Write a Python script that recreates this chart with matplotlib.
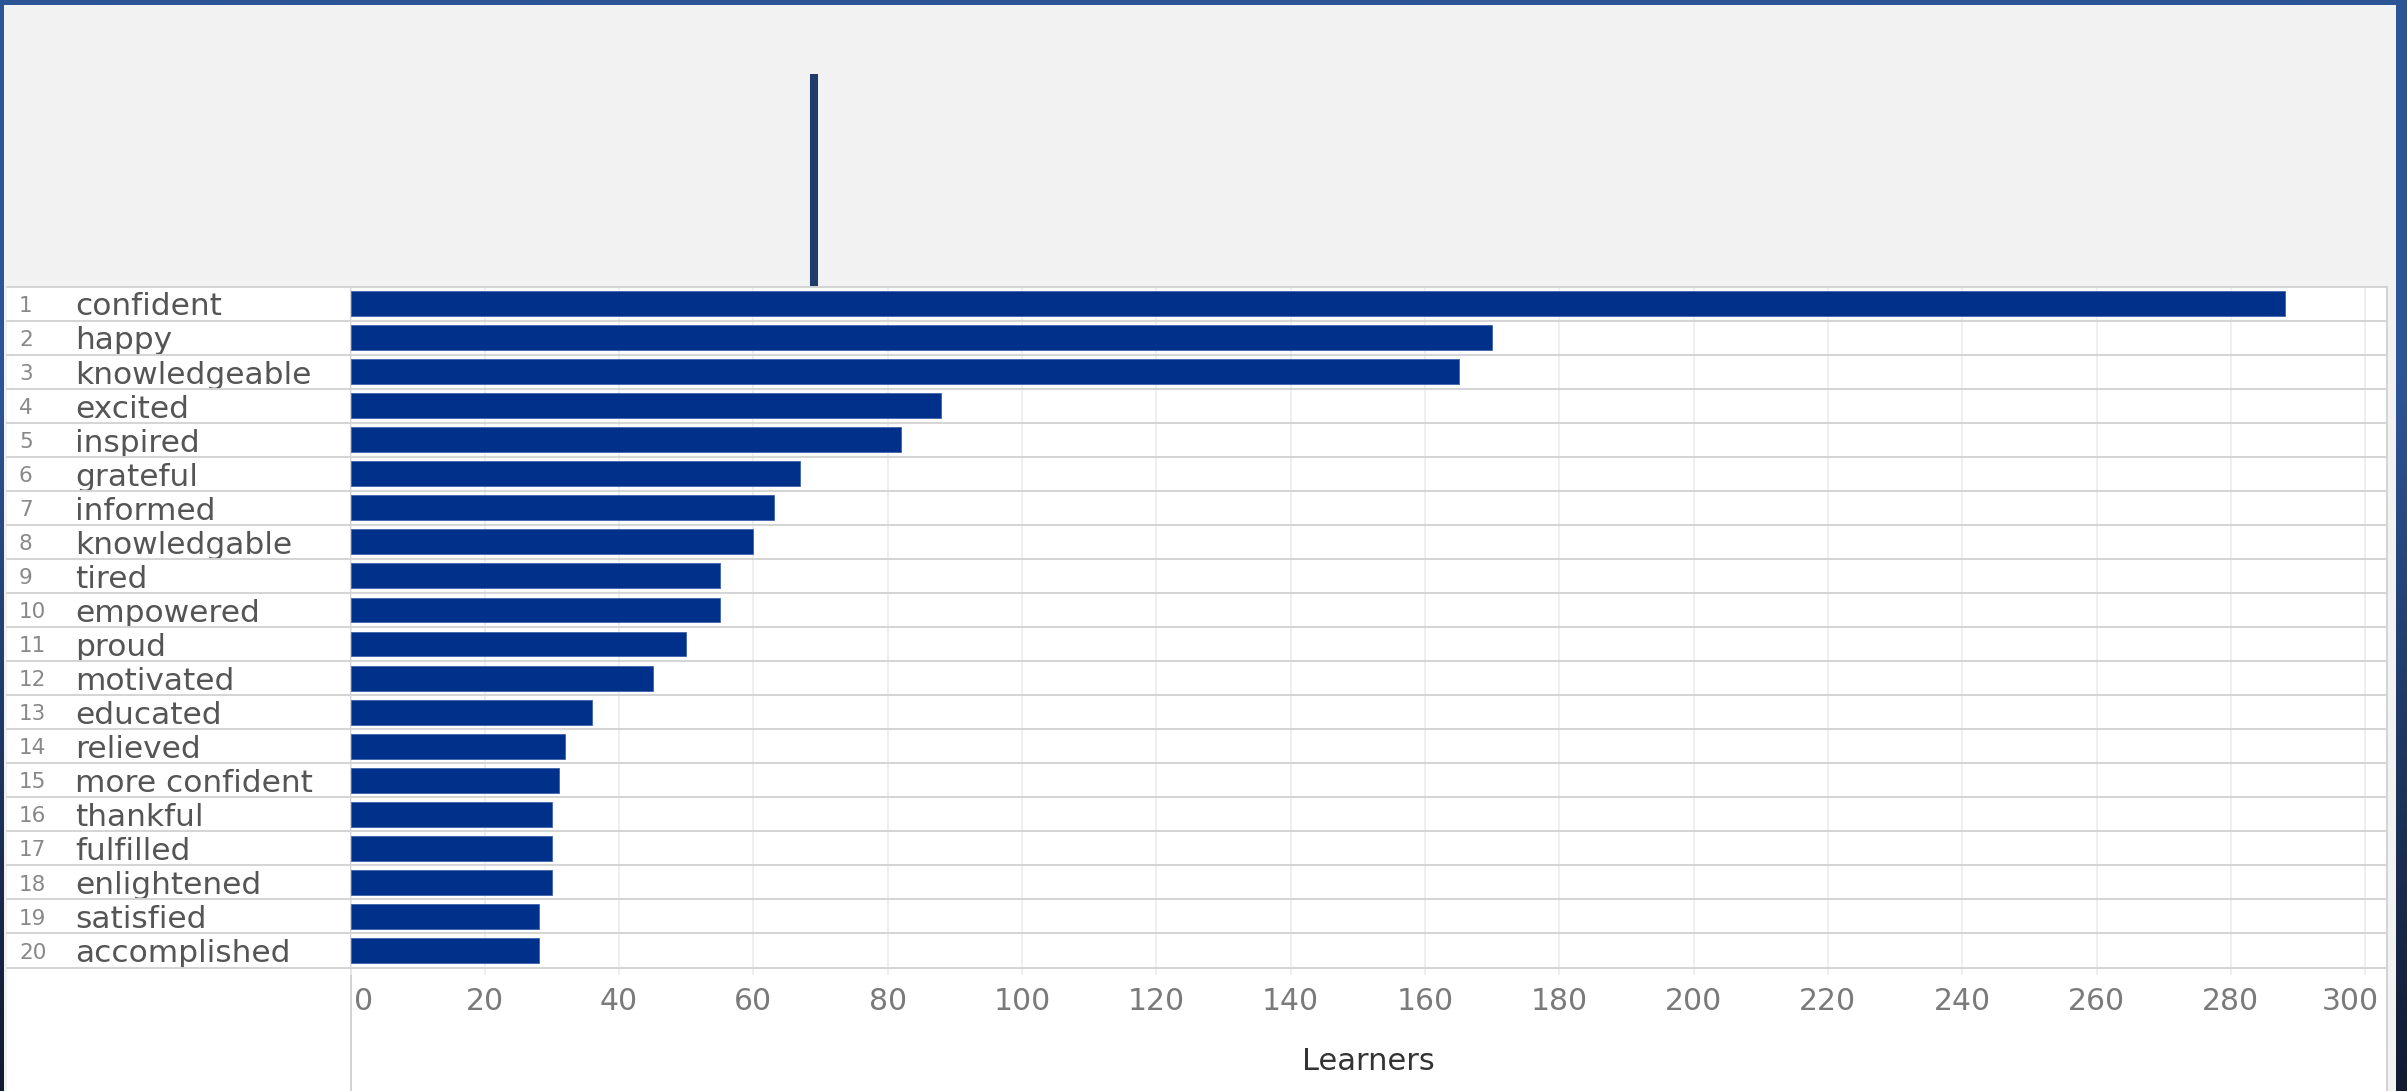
import numpy as np
import matplotlib.pyplot as plt
from matplotlib.patches import Rectangle
from matplotlib.lines import Line2D
from matplotlib.colors import to_rgb
from matplotlib.transforms import blended_transform_factory, ScaledTranslation


# DATA
words = [
    "confident", "happy", "knowledgeable", "excited", "inspired",
    "grateful", "informed", "knowledgable", "tired", "empowered",
    "proud", "motivated", "educated", "relieved", "more confident",
    "thankful", "fulfilled", "enlightened", "satisfied", "accomplished",
]
learners = [288, 170, 165, 88, 82, 67, 63, 60, 55, 55,
            50, 45, 36, 32, 31, 30, 30, 30, 28, 28]
ranks = list(range(1, len(words) + 1))
x_ticks = list(range(0, 301, 20))
x_tick_labels = [str(t) for t in x_ticks]
ref_value = 69
x_max = 303.25
axis_title = "Learners"


# FIGURE / PIXEL LAYOUT
W, H = 2407, 1091
fig = plt.figure(figsize=(W / 100, H / 100), dpi=100)

bg = fig.add_axes([0, 0, 1, 1])
bg.set_xlim(0, W)
bg.set_ylim(H, 0)
bg.axis("off")

# frame gradient (blue at top, navy at bottom)
top_c = np.array(to_rgb("#2d5596"))
bot_c = np.array(to_rgb("#111a30"))
t = np.clip((np.arange(H) - 380) / (H - 380), 0, 1)[:, None]
grad = (top_c * (1 - t) + bot_c * t)[:, None, :]
bg.imshow(grad, extent=[0, W, H, 0], aspect="auto", interpolation="bilinear")

bg.add_patch(Rectangle((4, 5), 2392, H - 5, color="#f2f2f2", lw=0))
bg.add_patch(Rectangle((7, 286.5), 2380, H - 286.5, color="white", lw=0))
bg.add_line(Line2D([350.5, 350.5], [286.5, H], color="#d3d3d3", lw=1.4))
bg.add_line(Line2D([2386.5, 2386.5], [286.5, H], color="#d3d3d3", lw=1.4))

# main axes
left, right, top, bottom = 350.5, 2387, 286.5, 967.5
ax = fig.add_axes([left / W, 1 - bottom / H, (right - left) / W, (bottom - top) / H])
ax.set_facecolor("none")
for s in ax.spines.values():
    s.set_visible(False)

y_pos = np.arange(len(words))
ax.barh(y_pos, learners, height=0.73, color="#00318a",
        edgecolor="#3f62ad", linewidth=0.6, zorder=3)

ax.set_xlim(0, x_max)
ax.set_ylim(len(words) - 0.5, -0.5)
ax.set_yticks([])
ax.set_xticks(x_ticks)
ax.set_xticklabels(x_tick_labels)
ax.grid(axis="x", color="#efefef", lw=1.4, zorder=0)
ax.set_axisbelow(True)
ax.tick_params(axis="x", length=5, width=1.2, color="#ececec",
               labelsize=21.5, labelcolor="#7a7a7a", pad=9)

tick_lbls = ax.get_xticklabels()
tick_lbls[0].set_ha("left")
tick_lbls[0].set_transform(tick_lbls[0].get_transform()
                           + ScaledTranslation(4 / 100, 0, fig.dpi_scale_trans))
tick_lbls[-1].set_ha("right")
tick_lbls[-1].set_transform(tick_lbls[-1].get_transform()
                            + ScaledTranslation(14 / 100, 0, fig.dpi_scale_trans))

# row separators + labels
ax_w = right - left
ax_h = bottom - top
row_tr = blended_transform_factory(ax.transAxes, ax.transData)
sep_x0 = (7 - left) / ax_w
for i in range(len(words) + 1):
    ax.add_line(Line2D([sep_x0, 1.0], [i - 0.5, i - 0.5], transform=row_tr,
                       color="#d4d4d4", lw=1.4, clip_on=False, zorder=4))

lab_x = (75 - left) / ax_w
num_x = (19 - left) / ax_w
for i, (r, w) in enumerate(zip(ranks, words)):
    ax.text(lab_x, i + 0.35, w, transform=row_tr, ha="left", va="baseline",
            fontsize=22.5, color="#555555")
    ax.text(num_x, i + 0.24, str(r), transform=row_tr, ha="left", va="baseline",
            fontsize=15.5, color="#888888")

# axis title
ax.text(0.5, -(1061 - bottom) / ax_h, axis_title, transform=ax.transAxes,
        ha="center", va="center", fontsize=22, color="#333333")

# reference mark above the pane
ref_tr = blended_transform_factory(ax.transData, ax.transAxes)
ax.add_line(Line2D([ref_value, ref_value], [1.0, 1 + (top - 74) / ax_h],
                   transform=ref_tr, color="#1f3c6a", lw=5.8,
                   solid_capstyle="butt", clip_on=False))

fig.savefig("out.png", dpi=100)
